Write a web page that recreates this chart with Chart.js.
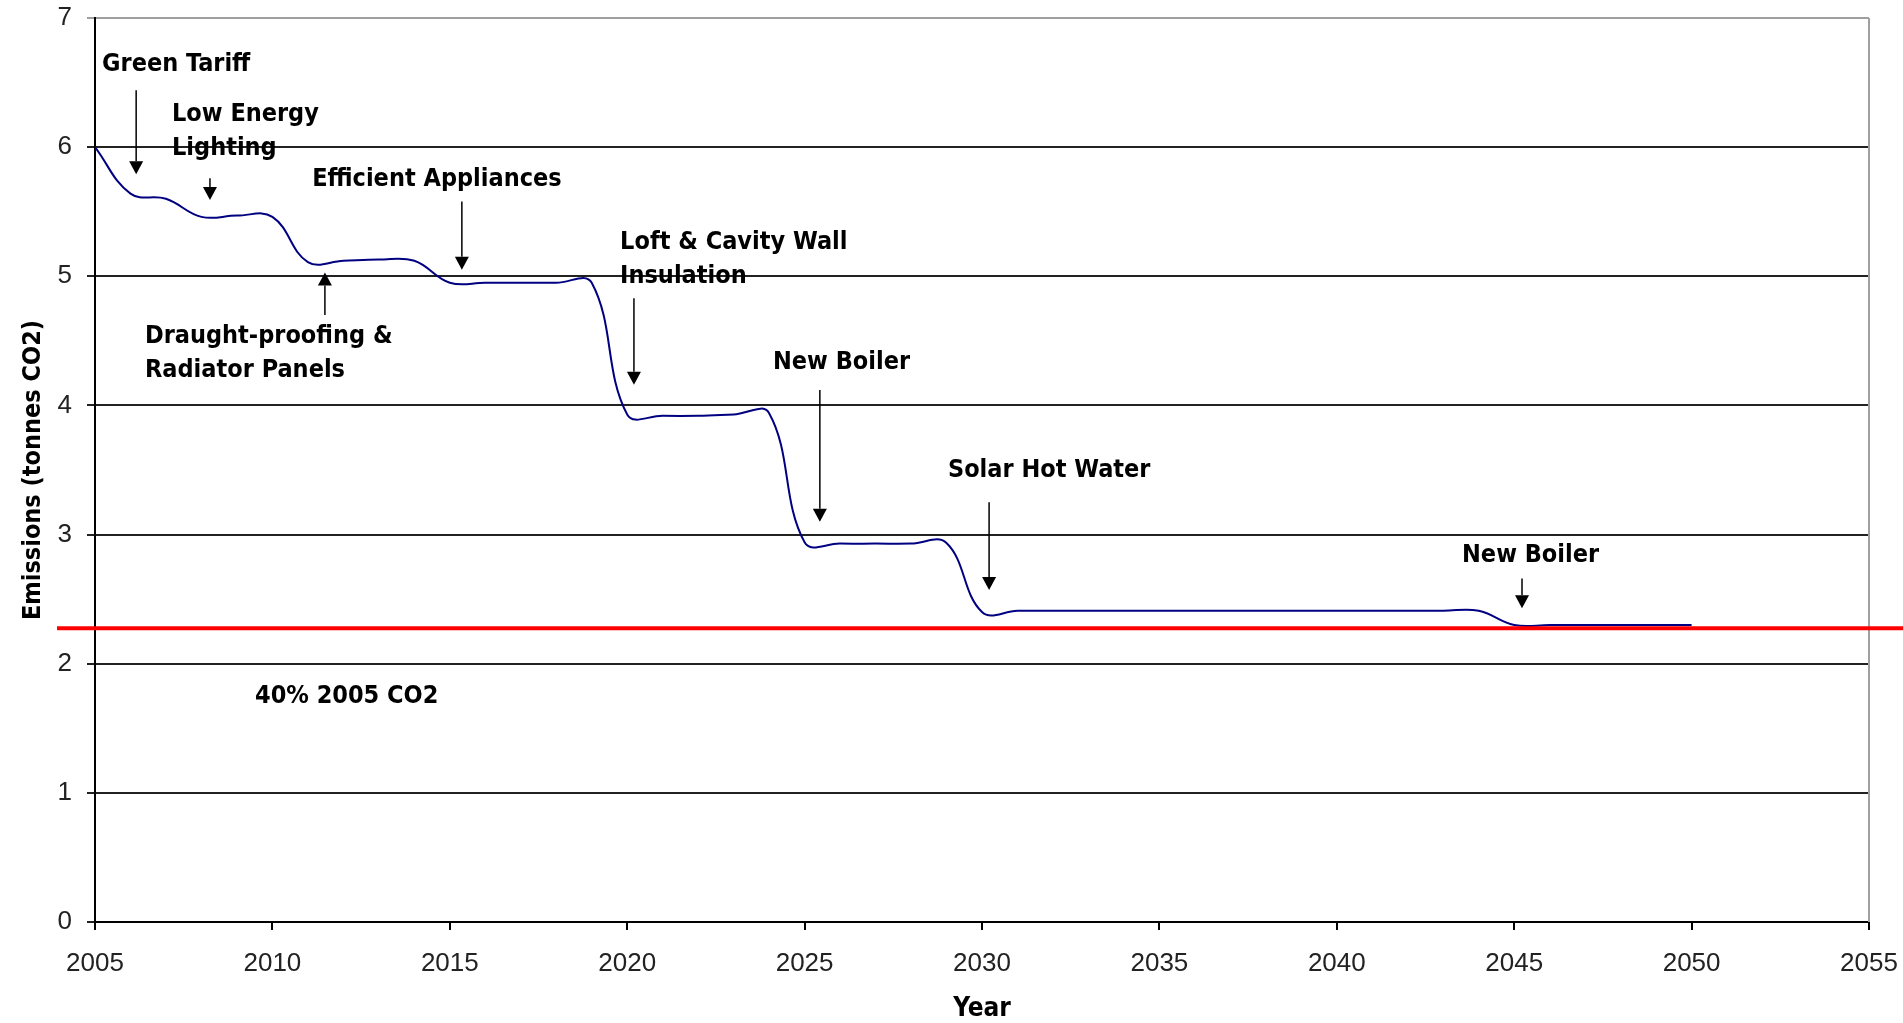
<!DOCTYPE html>
<html>
<head>
<meta charset="utf-8">
<title>Household emissions pathway</title>
<script src="https://cdn.jsdelivr.net/npm/chart.js@4.4.1/dist/chart.umd.min.js"></script>
<style>
  html, body { margin: 0; padding: 0; background: #fff; }
  #wrap { width: 1903px; height: 1023px; }
</style>
</head>
<body>
<div id="wrap"><canvas id="emissionsChart" width="1903" height="1023"></canvas></div>
<script>
/* ─── Data ──────────────────────────────────────────────────────────────── */
const years = [
  2005, 2006, 2007, 2008, 2009, 2010, 2011, 2012, 2013, 2014,
  2015, 2016, 2017, 2018, 2019, 2020, 2021, 2022, 2023, 2024,
  2025, 2026, 2027, 2028, 2029, 2030, 2031, 2032, 2033, 2034,
  2035, 2036, 2037, 2038, 2039, 2040, 2041, 2042, 2043, 2044,
  2045, 2046, 2047, 2048, 2049, 2050
];
const emissions = [
  6.00, 5.64, 5.60, 5.46, 5.47, 5.46, 5.11, 5.12, 5.13, 5.12,
  4.95, 4.95, 4.95, 4.95, 4.95, 3.93, 3.92, 3.92, 3.93, 3.94,
  2.94, 2.93, 2.93, 2.93, 2.935, 2.40, 2.41, 2.41, 2.41, 2.41,
  2.41, 2.41, 2.41, 2.41, 2.41, 2.41, 2.41, 2.41, 2.41, 2.41,
  2.30, 2.30, 2.30, 2.30, 2.30, 2.30
];
const xTicks = [2005, 2010, 2015, 2020, 2025, 2030, 2035, 2040, 2045, 2050, 2055];
const yTicks = [0, 1, 2, 3, 4, 5, 6, 7];
const target = 2.275;   // 40% of 2005 CO2

// callouts: text anchored at (year, tonnes), arrow drawn between two tonne values
const notes = [
  { lines: ['Green Tariff'],                     x: 2005.20, y: 6.64, arrow: { x: 2006.16, from: 6.44, to: 5.79 } },
  { lines: ['Low Energy', 'Lighting'],           x: 2007.17, y: 6.25, arrow: { x: 2008.24, from: 5.76, to: 5.59 } },
  { lines: ['Efficient Appliances'],             x: 2011.12, y: 5.75, arrow: { x: 2015.34, from: 5.58, to: 5.05 } },
  { lines: ['Draught-proofing &', 'Radiator Panels'], x: 2006.41, y: 4.53, arrow: { x: 2011.48, from: 4.70, to: 5.03 } },
  { lines: ['Loft & Cavity Wall', 'Insulation'], x: 2019.80, y: 5.26, arrow: { x: 2020.19, from: 4.83, to: 4.16 } },
  { lines: ['New Boiler'],                       x: 2024.11, y: 4.33, arrow: { x: 2025.43, from: 4.12, to: 3.10 } },
  { lines: ['Solar Hot Water'],                  x: 2029.04, y: 3.50, arrow: { x: 2030.20, from: 3.25, to: 2.57 } },
  { lines: ['New Boiler'],                       x: 2043.53, y: 2.84, arrow: { x: 2045.22, from: 2.66, to: 2.43 } },
  { lines: ['40% 2005 CO2'],                     x: 2009.51, y: 1.745 }
];

/* ─── Styles ────────────────────────────────────────────────────────────── */
const tickFont   = { family: "'Liberation Sans Narrow', 'Liberation Sans', Arial, sans-serif", size: 26 };
const boldFamily = "'DejaVu Sans Condensed', 'DejaVu Sans', sans-serif";
const noteFont   = { family: boldFamily, size: 25, weight: 'bold' };
const lineGap    = 34;

/* ─── Plugins ───────────────────────────────────────────────────────────── */
const plotFrame = {
  id: 'plotFrame',
  beforeDatasetsDraw(chart) {
    const { ctx, chartArea: a } = chart;
    ctx.save();
    ctx.strokeStyle = '#a0a0a0';
    ctx.lineWidth = 2;
    ctx.beginPath();
    ctx.moveTo(a.right, a.top);
    ctx.lineTo(a.right, a.bottom);
    ctx.stroke();
    ctx.restore();
  }
};

const targetLine = {
  id: 'targetLine',
  afterDatasetsDraw(chart) {
    const { ctx, chartArea: a, scales: { y } } = chart;
    const py = y.getPixelForValue(target);
    ctx.save();
    ctx.strokeStyle = '#ff0000';
    ctx.lineWidth = 4;
    ctx.beginPath();
    ctx.moveTo(a.left - 38, py);
    ctx.lineTo(chart.width, py);
    ctx.stroke();
    ctx.restore();
  }
};

function drawArrow(ctx, px, y0, y1) {
  const dir = Math.sign(y1 - y0);
  const head = 13, half = 7;
  ctx.lineWidth = 1.5;
  ctx.beginPath();
  ctx.moveTo(px, y0);
  ctx.lineTo(px, y1 - dir * head);
  ctx.stroke();
  ctx.beginPath();
  ctx.moveTo(px, y1);
  ctx.lineTo(px - half, y1 - dir * head);
  ctx.lineTo(px + half, y1 - dir * head);
  ctx.closePath();
  ctx.fill();
}

const callouts = {
  id: 'callouts',
  afterDraw(chart) {
    const { ctx, scales: { x, y } } = chart;
    ctx.save();
    ctx.font = `${noteFont.weight} ${noteFont.size}px ${noteFont.family}`;
    ctx.fillStyle = '#000';
    ctx.strokeStyle = '#000';
    ctx.textAlign = 'left';
    ctx.textBaseline = 'middle';
    notes.forEach(n => {
      const px = x.getPixelForValue(n.x);
      const py = y.getPixelForValue(n.y);
      n.lines.forEach((t, i) => ctx.fillText(t, px, py + i * lineGap));
      if (n.arrow) {
        drawArrow(ctx, x.getPixelForValue(n.arrow.x),
          y.getPixelForValue(n.arrow.from), y.getPixelForValue(n.arrow.to));
      }
    });
    ctx.restore();
  }
};

/* ─── Chart ─────────────────────────────────────────────────────────────── */
new Chart(document.getElementById('emissionsChart'), {
  type: 'line',
  data: {
    datasets: [{
      label: 'Emissions',
      data: years.map((yr, i) => ({ x: yr, y: emissions[i] })),
      borderColor: '#000080',
      borderWidth: 2,
      pointRadius: 0,
      tension: 0.4,
      fill: false
    }]
  },
  options: {
    responsive: false,
    animation: false,
    devicePixelRatio: 1,
    layout: { padding: { top: 18, right: 34, bottom: 0, left: 0 } },
    plugins: {
      legend: { display: false },
      tooltip: { enabled: false }
    },
    scales: {
      x: {
        type: 'linear',
        min: 2005,
        max: 2055,
        afterBuildTicks: s => { s.ticks = xTicks.map(v => ({ value: v })); },
        afterFit: s => { s.height = 101; s.paddingLeft = 0; s.paddingRight = 0; },
        ticks: {
          callback: v => String(v),
          font: tickFont,
          color: '#222',
          padding: 18,
          maxRotation: 0,
          autoSkip: false
        },
        grid: { drawOnChartArea: false, drawTicks: true, tickLength: 8, color: '#000', lineWidth: 2 },
        border: { display: true, color: '#000', width: 2 },
        title: {
          display: true,
          text: 'Year',
          font: { family: boldFamily, size: 26, weight: 'bold' },
          color: '#000',
          padding: { top: 0, bottom: -2 }
        }
      },
      y: {
        min: 0,
        max: 7,
        afterBuildTicks: s => { s.ticks = yTicks.map(v => ({ value: v })); },
        afterFit: s => { s.width = 95; s.paddingTop = 0; s.paddingBottom = 0; },
        ticks: {
          font: tickFont,
          color: '#222',
          padding: 15
        },
        grid: {
          color: c => (c.tick && c.tick.value === 7 ? '#a0a0a0' : '#222'),
          lineWidth: 2,
          tickLength: 8
        },
        border: { display: true, color: '#000', width: 2 },
        title: {
          display: true,
          text: 'Emissions (tonnes CO2)',
          font: { family: boldFamily, size: 25, weight: 'bold' },
          color: '#000',
          padding: { top: 18, bottom: 0 }
        }
      }
    }
  },
  plugins: [plotFrame, targetLine, callouts]
});
</script>
</body>
</html>
